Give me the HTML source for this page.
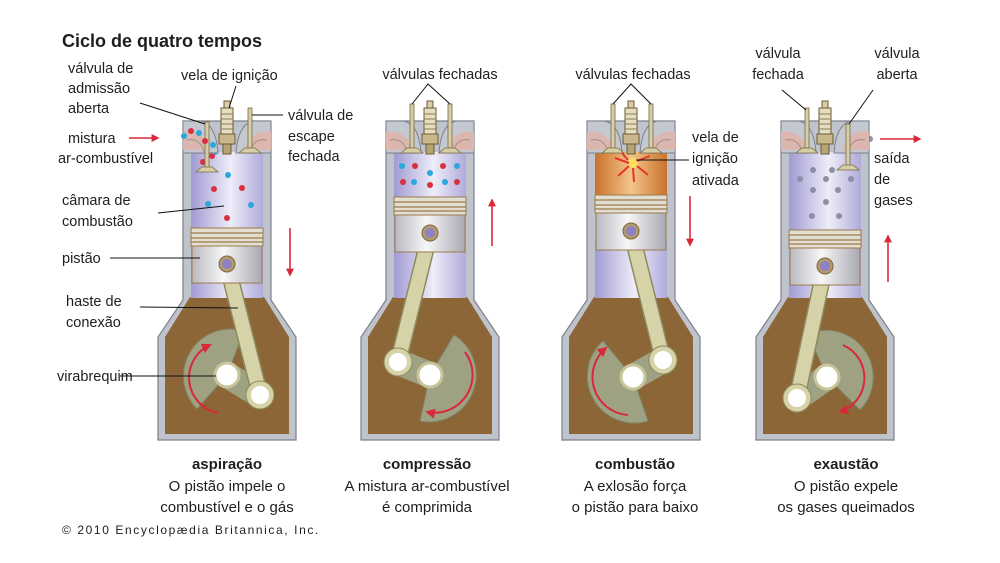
<!DOCTYPE html>
<html><head><meta charset="utf-8">
<style>
html,body{margin:0;padding:0;background:#fff;}
svg{display:block;}
text{font-family:"Liberation Sans",Arial,sans-serif;fill:#1e1e1e;}
</style></head>
<body>
<svg width="1000" height="563" viewBox="0 0 1000 563" xmlns="http://www.w3.org/2000/svg">
<defs>
  <linearGradient id="lav" x1="0" x2="1" y1="0" y2="0">
    <stop offset="0" stop-color="#a29bd3"/><stop offset="0.55" stop-color="#eeedf8"/><stop offset="1" stop-color="#b0aada"/>
  </linearGradient>
  <linearGradient id="org" x1="0" x2="1" y1="0" y2="0">
    <stop offset="0" stop-color="#c9712a"/><stop offset="0.5" stop-color="#f3c48a"/><stop offset="1" stop-color="#c9732c"/>
  </linearGradient>
  <linearGradient id="silv" x1="0" x2="1" y1="0" y2="0">
    <stop offset="0" stop-color="#b9b9c0"/><stop offset="0.45" stop-color="#f7f7f8"/><stop offset="1" stop-color="#a9a9b2"/>
  </linearGradient>
  <marker id="ah" viewBox="0 0 10 10" refX="8" refY="5" markerWidth="5" markerHeight="5" orient="auto">
    <path d="M0,0 L10,5 L0,10 Z" fill="#d9283a"/>
  </marker>
  <g id="casing">
    <path d="M-44,121 L-44,300 L-69,337 L-69,440 L69,440 L69,337 L44,300 L44,121 Z" fill="#bfc3cb" stroke="#7b808a" stroke-width="1.2"/>
    <path d="M-37,297 L-62,337 L-62,434 L62,434 L62,337 L37,297 Z" fill="#8c6636"/>
  </g>
  <g id="head">
    <path d="M-44,121 L-26,121 C-14,124 -10,138 -9,153 L-37,153 L-44,153 Z" fill="#c4c8d0" stroke="#7b808a" stroke-width="1"/>
    <path d="M44,121 L26,121 C14,124 10,138 9,153 L37,153 L44,153 Z" fill="#c4c8d0" stroke="#7b808a" stroke-width="1"/>
    <path d="M-44,132 C-34,130 -22,134 -17,150 L-37,150 L-44,150 Z" fill="#dcb7b0"/>
    <path d="M44,132 C34,130 22,134 17,150 L37,150 L44,150 Z" fill="#dcb7b0"/>
    <path d="M-40,140 C-30,138 -25,144 -23,152 M40,140 C30,138 25,144 23,152" fill="none" stroke="#a08d86" stroke-width="1"/>
  </g>
  <g id="plug">
    <rect x="-3" y="101" width="6" height="7" fill="#d8cfa8" stroke="#6b5a3a" stroke-width="1"/>
    <rect x="-6" y="108" width="12" height="26" fill="#e6dfbf" stroke="#6b5a3a" stroke-width="1"/>
    <path d="M-6,114 H6 M-6,119 H6 M-6,124 H6 M-6,129 H6" stroke="#8a7a55" stroke-width="1"/>
    <rect x="-8" y="134" width="16" height="10" fill="#c8b88c" stroke="#6b5a3a" stroke-width="1"/>
    <rect x="-4" y="144" width="8" height="10" fill="#b8a472" stroke="#6b5a3a" stroke-width="1"/>
  </g>
  <g id="piston">
    <rect x="-36" y="0" width="72" height="18" fill="#e2ded2" stroke="#9c7a4a" stroke-width="1"/>
    <path d="M-36,5 H36 M-36,10 H36 M-36,14 H36" stroke="#9c7a4a" stroke-width="1.2"/>
    <rect x="-35" y="18" width="70" height="37" fill="url(#silv)" stroke="#9c7a4a" stroke-width="1"/>
    <circle cx="0" cy="36" r="8" fill="#b39a6a" stroke="#7d6640" stroke-width="1"/>
    <circle cx="0" cy="36" r="5" fill="#8d80c4"/>
  </g>
</defs>

<text x="62" y="47" font-size="18" font-weight="bold">Ciclo de quatro tempos</text>

<!-- ========== ENGINE 1 ========== -->
<use href="#casing" x="227"/>
<rect x="191" y="152" width="72" height="146" fill="url(#lav)"/>
<g fill="#d9303f"><circle cx="212" cy="156" r="3"/><circle cx="214" cy="189" r="3"/><circle cx="242" cy="188" r="3"/><circle cx="227" cy="218" r="3"/><circle cx="203" cy="162" r="3"/></g>
<g fill="#2aa7dc"><circle cx="228" cy="175" r="3"/><circle cx="208" cy="204" r="3"/><circle cx="251" cy="205" r="3"/><circle cx="215" cy="152" r="3"/></g>
<path d="M227,375 L197,409 A47,47 0 0 1 244,331 Z" fill="#9ea283" stroke="#7f8466" stroke-width="1"/>
<line x1="227" y1="375" x2="260" y2="395" stroke="#9ea283" stroke-width="26"/>
<path d="M218,413 A36,36 0 0 1 210,345" fill="none" stroke="#d9283a" stroke-width="2" marker-end="url(#ah)"/>
<line x1="227" y1="264" x2="260" y2="395" stroke="#8f8a5e" stroke-width="17" stroke-linecap="round"/>
<line x1="227" y1="264" x2="260" y2="395" stroke="#d6d3a8" stroke-width="14" stroke-linecap="round"/>
<circle cx="227" cy="375" r="12" fill="#fff" stroke="#c8c59a" stroke-width="3"/>
<circle cx="260" cy="395" r="14" fill="#d6d3a8" stroke="#8f8a5e" stroke-width="1"/>
<circle cx="260" cy="395" r="9" fill="#fff"/>
<use href="#piston" x="227" y="228"/>
<use href="#head" x="227"/>
<rect x="205" y="122" width="4" height="46" fill="#d6cfa6" stroke="#7a6a45" stroke-width="0.8"/>
<path d="M196,172 L218,172 L212,167 L202,167 Z" fill="#d6cfa6" stroke="#7a6a45" stroke-width="0.8"/>
<rect x="248" y="108" width="4" height="40" fill="#d6cfa6" stroke="#7a6a45" stroke-width="0.8"/>
<path d="M239,153 L261,153 L255,148 L245,148 Z" fill="#d6cfa6" stroke="#7a6a45" stroke-width="0.8"/>
<use href="#plug" x="227"/>
<g fill="#2aa7dc"><circle cx="184" cy="136" r="3"/><circle cx="199" cy="133" r="3"/><circle cx="213" cy="145" r="3"/></g>
<g fill="#d9303f"><circle cx="191" cy="131" r="3"/><circle cx="205" cy="141" r="3"/></g>
<line x1="129" y1="138" x2="158" y2="138" stroke="#d9283a" stroke-width="1.6" marker-end="url(#ah)"/>
<line x1="290" y1="228" x2="290" y2="275" stroke="#d9283a" stroke-width="1.6" marker-end="url(#ah)"/>
<g stroke="#111" stroke-width="1" fill="none">
<path d="M140,103 L205,124"/><path d="M236,86 L229,108"/><path d="M252,115 L283,115"/>
<path d="M158,213 L224,206"/><path d="M110,258 L200,258"/><path d="M140,307 L238,308"/><path d="M120,376 L216,376"/>
</g>
<g font-size="14.5">
<text x="68" y="73">válvula de</text><text x="68" y="93">admissão</text><text x="68" y="113">aberta</text>
<text x="181" y="80">vela de ignição</text>
<text x="288" y="120">válvula de</text><text x="288" y="141">escape</text><text x="288" y="161">fechada</text>
<text x="68" y="143">mistura</text><text x="58" y="163">ar-combustível</text>
<text x="62" y="205">câmara de</text><text x="62" y="226">combustão</text>
<text x="62" y="263">pistão</text>
<text x="66" y="306">haste de</text><text x="66" y="327">conexão</text>
<text x="57" y="381">virabrequim</text>
</g>

<!-- ========== ENGINE 2 ========== -->
<use href="#casing" x="430"/>
<rect x="394" y="152" width="72" height="146" fill="url(#lav)"/>
<g fill="#2aa7dc"><circle cx="402" cy="166" r="3"/><circle cx="457" cy="166" r="3"/><circle cx="430" cy="173" r="3"/><circle cx="414" cy="182" r="3"/><circle cx="445" cy="182" r="3"/></g>
<g fill="#d9303f"><circle cx="415" cy="166" r="3"/><circle cx="443" cy="166" r="3"/><circle cx="403" cy="182" r="3"/><circle cx="430" cy="185" r="3"/><circle cx="457" cy="182" r="3"/></g>
<path d="M430,375 L454,335 A47,47 0 0 1 420,421 Z" fill="#9ea283" stroke="#7f8466" stroke-width="1"/>
<line x1="430" y1="375" x2="398" y2="362" stroke="#9ea283" stroke-width="26"/>
<path d="M465,352 A38,38 0 0 1 427,412" fill="none" stroke="#d9283a" stroke-width="2" marker-end="url(#ah)"/>
<line x1="430" y1="233" x2="398" y2="362" stroke="#8f8a5e" stroke-width="17" stroke-linecap="round"/>
<line x1="430" y1="233" x2="398" y2="362" stroke="#d6d3a8" stroke-width="14" stroke-linecap="round"/>
<circle cx="430" cy="375" r="12" fill="#fff" stroke="#c8c59a" stroke-width="3"/>
<circle cx="398" cy="362" r="14" fill="#d6d3a8" stroke="#8f8a5e" stroke-width="1"/>
<circle cx="398" cy="362" r="9" fill="#fff"/>
<use href="#piston" x="430" y="197"/>
<use href="#head" x="430"/>
<rect x="410" y="104" width="4" height="44" fill="#d6cfa6" stroke="#7a6a45" stroke-width="0.8"/>
<path d="M401,153 L423,153 L417,148 L407,148 Z" fill="#d6cfa6" stroke="#7a6a45" stroke-width="0.8"/>
<rect x="448" y="104" width="4" height="44" fill="#d6cfa6" stroke="#7a6a45" stroke-width="0.8"/>
<path d="M439,153 L461,153 L455,148 L445,148 Z" fill="#d6cfa6" stroke="#7a6a45" stroke-width="0.8"/>
<use href="#plug" x="430"/>
<path d="M412,104 L428,84 L450,104" stroke="#111" stroke-width="1" fill="none"/>
<text x="440" y="79" font-size="14.5" text-anchor="middle">válvulas fechadas</text>
<line x1="492" y1="246" x2="492" y2="200" stroke="#d9283a" stroke-width="1.6" marker-end="url(#ah)"/>

<!-- ========== ENGINE 3 ========== -->
<use href="#casing" x="631"/>
<rect x="595" y="152" width="72" height="46" fill="url(#org)"/>
<rect x="595" y="240" width="72" height="58" fill="url(#lav)"/>
<path d="M633,377 L648,421 A47,47 0 0 1 603,341 Z" fill="#9ea283" stroke="#7f8466" stroke-width="1"/>
<line x1="633" y1="377" x2="663" y2="360" stroke="#9ea283" stroke-width="26"/>
<path d="M628,415 A38,38 0 0 1 606,348" fill="none" stroke="#d9283a" stroke-width="2" marker-end="url(#ah)"/>
<line x1="631" y1="231" x2="663" y2="360" stroke="#8f8a5e" stroke-width="17" stroke-linecap="round"/>
<line x1="631" y1="231" x2="663" y2="360" stroke="#d6d3a8" stroke-width="14" stroke-linecap="round"/>
<circle cx="633" cy="377" r="12" fill="#fff" stroke="#c8c59a" stroke-width="3"/>
<circle cx="663" cy="360" r="14" fill="#d6d3a8" stroke="#8f8a5e" stroke-width="1"/>
<circle cx="663" cy="360" r="9" fill="#fff"/>
<use href="#piston" x="631" y="195"/>
<use href="#head" x="631"/>
<rect x="611" y="104" width="4" height="44" fill="#d6cfa6" stroke="#7a6a45" stroke-width="0.8"/>
<path d="M602,153 L624,153 L618,148 L608,148 Z" fill="#d6cfa6" stroke="#7a6a45" stroke-width="0.8"/>
<rect x="649" y="104" width="4" height="44" fill="#d6cfa6" stroke="#7a6a45" stroke-width="0.8"/>
<path d="M640,153 L662,153 L656,148 L646,148 Z" fill="#d6cfa6" stroke="#7a6a45" stroke-width="0.8"/>
<use href="#plug" x="631"/>
<circle cx="633" cy="163" r="5" fill="#ffe35a" opacity="0.9"/>
<g stroke="#e5352b" stroke-width="2">
<path d="M615,158 L629,163 M618,176 L629,166 M637,166 L648,175 M637,161 L650,156 M633,168 L634,182 M628,160 L622,153"/>
</g>
<path d="M613,104 L631,84 L651,104" stroke="#111" stroke-width="1" fill="none"/>
<line x1="636" y1="160" x2="689" y2="160" stroke="#111" stroke-width="1"/>
<g font-size="14.5">
<text x="633" y="79" text-anchor="middle">válvulas fechadas</text>
<text x="692" y="142">vela de</text><text x="692" y="163">ignição</text><text x="692" y="185">ativada</text>
</g>
<line x1="690" y1="196" x2="690" y2="245" stroke="#d9283a" stroke-width="1.6" marker-end="url(#ah)"/>

<!-- ========== ENGINE 4 ========== -->
<use href="#casing" x="825"/>
<rect x="789" y="152" width="72" height="146" fill="url(#lav)"/>
<g fill="#8e8fa6"><circle cx="813" cy="170" r="3"/><circle cx="832" cy="170" r="3"/><circle cx="800" cy="179" r="3"/><circle cx="826" cy="179" r="3"/><circle cx="851" cy="179" r="3"/><circle cx="813" cy="190" r="3"/><circle cx="838" cy="190" r="3"/><circle cx="826" cy="202" r="3"/><circle cx="812" cy="216" r="3"/><circle cx="839" cy="216" r="3"/><circle cx="870" cy="139" r="3"/><circle cx="862" cy="132" r="2.5"/></g>
<path d="M827,377 L808,334 A47,47 0 0 1 860,410 Z" fill="#9ea283" stroke="#7f8466" stroke-width="1"/>
<line x1="827" y1="377" x2="797" y2="398" stroke="#9ea283" stroke-width="26"/>
<path d="M843,345 A36,36 0 0 1 840,412" fill="none" stroke="#d9283a" stroke-width="2" marker-end="url(#ah)"/>
<line x1="825" y1="266" x2="797" y2="398" stroke="#8f8a5e" stroke-width="17" stroke-linecap="round"/>
<line x1="825" y1="266" x2="797" y2="398" stroke="#d6d3a8" stroke-width="14" stroke-linecap="round"/>
<circle cx="827" cy="377" r="12" fill="#fff" stroke="#c8c59a" stroke-width="3"/>
<circle cx="797" cy="398" r="14" fill="#d6d3a8" stroke="#8f8a5e" stroke-width="1"/>
<circle cx="797" cy="398" r="9" fill="#fff"/>
<use href="#piston" x="825" y="230"/>
<use href="#head" x="825"/>
<rect x="805" y="108" width="4" height="40" fill="#d6cfa6" stroke="#7a6a45" stroke-width="0.8"/>
<path d="M796,153 L818,153 L812,148 L802,148 Z" fill="#d6cfa6" stroke="#7a6a45" stroke-width="0.8"/>
<rect x="846" y="124" width="4" height="42" fill="#d6cfa6" stroke="#7a6a45" stroke-width="0.8"/>
<path d="M837,170 L859,170 L853,165 L843,165 Z" fill="#d6cfa6" stroke="#7a6a45" stroke-width="0.8"/>
<use href="#plug" x="825"/>
<g stroke="#111" stroke-width="1" fill="none"><path d="M782,90 L806,110"/><path d="M873,90 L849,124"/></g>
<g font-size="14.5">
<text x="778" y="58" text-anchor="middle">válvula</text><text x="778" y="79" text-anchor="middle">fechada</text>
<text x="897" y="58" text-anchor="middle">válvula</text><text x="897" y="79" text-anchor="middle">aberta</text>
<text x="874" y="163">saída</text><text x="874" y="184">de</text><text x="874" y="205">gases</text>
</g>
<line x1="880" y1="139" x2="920" y2="139" stroke="#d9283a" stroke-width="1.6" marker-end="url(#ah)"/>
<line x1="888" y1="282" x2="888" y2="236" stroke="#d9283a" stroke-width="1.6" marker-end="url(#ah)"/>

<!-- captions -->
<g font-size="15" text-anchor="middle">
<text x="227" y="469" font-weight="bold">aspiração</text>
<text x="227" y="491">O pistão impele o</text>
<text x="227" y="512">combustível e o gás</text>
<text x="427" y="469" font-weight="bold">compressão</text>
<text x="427" y="491">A mistura ar-combustível</text>
<text x="427" y="512">é comprimida</text>
<text x="635" y="469" font-weight="bold">combustão</text>
<text x="635" y="491">A exlosão força</text>
<text x="635" y="512">o pistão para baixo</text>
<text x="846" y="469" font-weight="bold">exaustão</text>
<text x="846" y="491">O pistão expele</text>
<text x="846" y="512">os gases queimados</text>
</g>
<text x="62" y="534" font-size="12" letter-spacing="1.6">© 2010 Encyclopædia Britannica, Inc.</text>
</svg>
</body></html>
